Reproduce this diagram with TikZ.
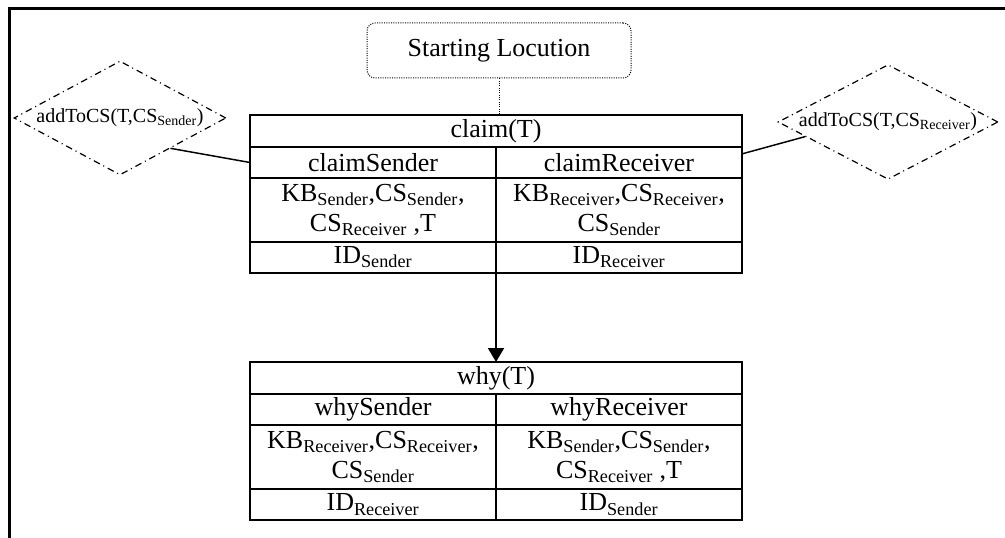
\documentclass[tikz,border=0pt]{standalone}
\usepackage{fontspec}
\setmainfont{Liberation Serif}
\usetikzlibrary{shapes.geometric,arrows.meta}

\begin{document}
\begin{tikzpicture}[x=0.75pt,y=0.75pt,yscale=-1,xscale=1,
	box/.style={draw,line width=1.4pt,inner sep=0pt,outer sep=0pt,align=center,font=\fontsize{19.5}{22.5}\selectfont},
	wide/.style={box,minimum width=369pt,minimum height=24pt},
	half/.style={box,minimum width=184.5pt,minimum height=23.25pt},
	tall/.style={box,minimum width=184.5pt,minimum height=48pt},
	act/.style={diamond,draw,line width=0.9pt,dash pattern=on 5pt off 3pt on 0.8pt off 3pt,inner sep=0pt,aspect=1.86,font=\fontsize{15}{18}\selectfont},
	link/.style={line width=1.1pt}]
		\useasboundingbox (0,0) rectangle (1005,538);
		\draw [line width=1.6pt]   (9.5,538) -- (9.5,8.5) -- (1005,8.5) ;
		% starting locution
		\node [draw,densely dotted,line width=0.75pt,rounded corners=6pt,minimum width=198pt,minimum height=41.25pt,font=\fontsize{19.5}{22.5}\selectfont] (start) at (499,50.5) {Starting Locution};
		% claim(T)
		\node [wide] (claim) at (496,131) {claim(T)};
		\node [half,anchor=north west] (cSnd) at (claim.south west) {claimSender};
		\node [half,anchor=north east] (cRcv) at (claim.south east) {claimReceiver};
		\node [tall,anchor=north] (cSndKB) at (cSnd.south) {KB\textsubscript{Sender},CS\textsubscript{Sender},\\CS\textsubscript{Receiver} ,T};
		\node [tall,anchor=north] (cRcvKB) at (cRcv.south) {KB\textsubscript{Receiver},CS\textsubscript{Receiver},\\CS\textsubscript{Sender}};
		\node [half,anchor=north] (cSndID) at (cSndKB.south) {ID\textsubscript{Sender}};
		\node [half,anchor=north] (cRcvID) at (cRcvKB.south) {ID\textsubscript{Receiver}};
		% why(T)
		\node [wide] (why) at (496,378) {why(T)};
		\node [half,anchor=north west] (wSnd) at (why.south west) {whySender};
		\node [half,anchor=north east] (wRcv) at (why.south east) {whyReceiver};
		\node [tall,anchor=north] (wSndKB) at (wSnd.south) {KB\textsubscript{Receiver},CS\textsubscript{Receiver},\\CS\textsubscript{Sender}};
		\node [tall,anchor=north] (wRcvKB) at (wRcv.south) {KB\textsubscript{Sender},CS\textsubscript{Sender},\\CS\textsubscript{Receiver} ,T};
		\node [half,anchor=north] (wSndID) at (wSndKB.south) {ID\textsubscript{Receiver}};
		\node [half,anchor=north] (wRcvID) at (wRcvKB.south) {ID\textsubscript{Sender}};
		% side actions
		\node [act,minimum width=159pt,minimum height=85.5pt] (addSnd) at (120,118) {addToCS(T,CS\textsubscript{Sender})};
		\node [act,minimum width=165pt,minimum height=86pt] (addRcv) at (888,122) {addToCS(T,CS\textsubscript{Receiver})};
		\draw [densely dotted,line width=0.75pt]   (start.south) -- (start.south |- claim.north) ;
		\draw [link]   (cSnd.west) -- (addSnd.-31) ;
		\draw [link]   (cRcv.4) -- (addRcv.-170) ;
		\draw [line width=1.4pt,-{Triangle[width=12pt,length=10.5pt]}]   (cSndID.south east) -- (why.north) ;
\end{tikzpicture}
\end{document}
